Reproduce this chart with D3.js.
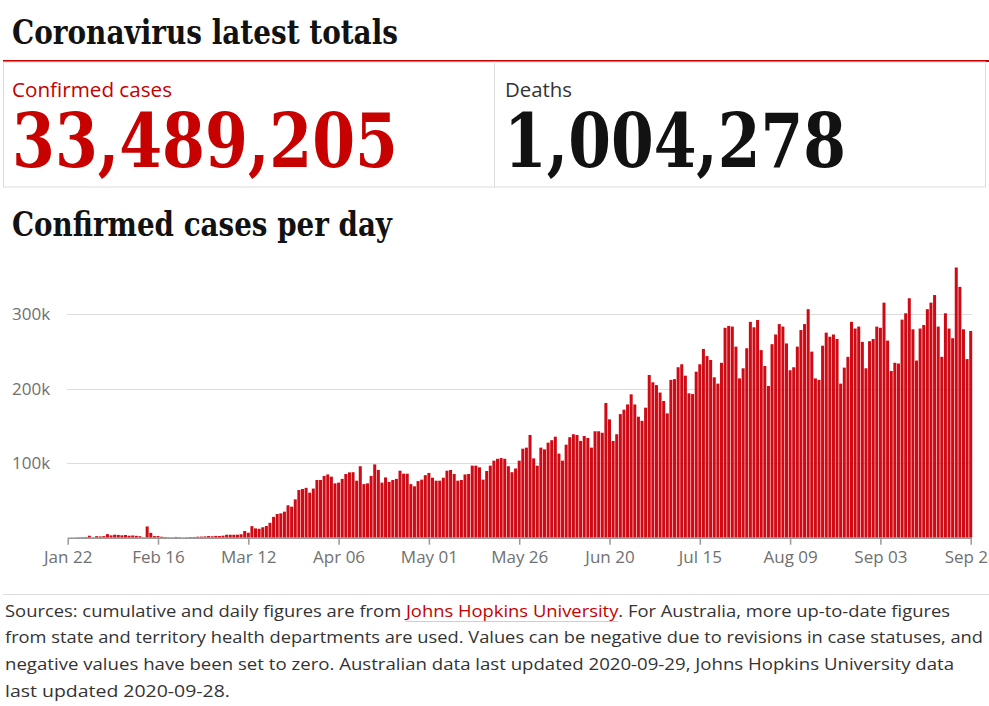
<!DOCTYPE html>
<html>
<head>
<meta charset="utf-8">
<script src="https://cdn.jsdelivr.net/npm/d3@7"></script>
<style>
  html, body { margin: 0; padding: 0; background: #fff; overflow: hidden; }
  svg { display: block; }
</style>
</head>
<body>
<svg id="chart" width="989" height="706"></svg>
<script>
// totals
const totalCases = 33489205;
const totalDeaths = 1004278;

// daily confirmed cases, one value per day starting 2020-01-22
const startDay = "2020-01-22";
const dailyCases = [
  0, 99, 287, 493, 684, 809, 2651, 588, 2068, 1693,
  2111, 4749, 3094, 4011, 3743, 3159, 3595, 2676, 3001, 2545,
  2026, 436, 15141, 6517, 2145, 2207, 1300, 900, 500, 400,
  1013, 600, 300, 597, 868, 959, 1309, 1454, 1716, 2218,
  1903, 2416, 2263, 2731, 3979, 3946, 3968, 4019, 4600, 9000,
  6700, 15500, 12500, 12000, 14000, 15700, 20000, 28000, 31800, 32700,
  35000, 43500, 41700, 51500, 64000, 65400, 67000, 60500, 66000, 77500,
  77500, 83000, 85000, 82000, 73000, 74000, 79000, 85600, 87800, 88000,
  76600, 96000, 72000, 73000, 83000, 98500, 91000, 74000, 81000, 75000,
  77500, 79000, 90000, 86000, 86000, 72000, 69000, 76000, 78000, 84000,
  87000, 80600, 76600, 76600, 80600, 90000, 91000, 85600, 76600, 77500,
  85000, 85600, 96800, 96800, 94500, 78000, 89600, 96800, 103500, 106000,
  107000, 106000, 96000, 88000, 93000, 103500, 119600, 121000, 138000, 106600,
  96800, 121000, 118700, 127700, 131000, 135700, 113000, 103500, 125000, 135000,
  139000, 138000, 130000, 136600, 134000, 121000, 143000, 143000, 141000, 181000,
  159000, 130000, 139000, 166000, 172000, 179000, 192600, 179000, 162600, 157000,
  174700, 218600, 208800, 205000, 195000, 183700, 167000, 212000, 213000, 229000,
  233000, 217700, 194000, 193000, 223000, 233000, 253600, 244000, 238800, 215500,
  207000, 235000, 282000, 284500, 283600, 256700, 214000, 227600, 254500, 290000,
  282700, 292500, 252000, 230700, 203800, 260000, 273000, 287000, 283600, 261000,
  225000, 229000, 256700, 279000, 287000, 307000, 250000, 214000, 212000, 258000,
  275500, 270000, 273000, 267000, 207000, 228500, 243000, 290000, 281000, 283600,
  263000, 227600, 264000, 267000, 283600, 282000, 315800, 264800, 224000, 235000,
  234000, 293000, 301500, 321700, 280000, 238000, 281000, 285800, 307000, 315800,
  326000, 283600, 243000, 301500, 281000, 268000, 363000, 337000, 280000, 240000,
  277800
];

const xTickDays = ["2020-01-22", "2020-02-16", "2020-03-12", "2020-04-06", "2020-05-01",
  "2020-05-26", "2020-06-20", "2020-07-15", "2020-08-09", "2020-09-03", "2020-09-28"];
const yTickValues = [100000, 200000, 300000];

const footLines = [
  ["Sources: cumulative and daily figures are from ", "Johns Hopkins University", ". For Australia, more up-to-date figures"],
  ["from state and territory health departments are used. Values can be negative due to revisions in case statuses, and"],
  ["negative values have been set to zero. Australian data last updated 2020-09-29, Johns Hopkins University data"],
  ["last updated 2020-09-28."]
];

const red = "#c70000";
const serif = "'DejaVu Serif', 'Liberation Serif', serif";
const sans = "'Open Sans', 'Noto Sans', sans-serif";

const svg = d3.select("#chart");
const parseDay = d3.timeParse("%Y-%m-%d");
const start = parseDay(startDay);
const data = dailyCases.map((v, i) => ({ date: d3.timeDay.offset(start, i), value: v }));

// header
svg.append("text")
  .attr("x", 12).attr("y", 44)
  .attr("font-family", serif).attr("font-weight", "bold").attr("font-size", 34)
  .attr("fill", "#121212")
  .attr("textLength", 386).attr("lengthAdjust", "spacingAndGlyphs")
  .text("Coronavirus latest totals");

svg.append("line")
  .attr("x1", 3).attr("x2", 989).attr("y1", 61).attr("y2", 61)
  .attr("stroke", red).attr("stroke-width", 2.2);

svg.append("rect")
  .attr("x", 3.5).attr("y", 62).attr("width", 491).attr("height", 125)
  .attr("fill", "none").attr("stroke", "#dcdcdc");
svg.append("rect")
  .attr("x", 494.5).attr("y", 62).attr("width", 491).attr("height", 125)
  .attr("fill", "none").attr("stroke", "#dcdcdc");

svg.append("text")
  .attr("x", 12).attr("y", 97)
  .attr("font-family", sans).attr("font-size", 20).attr("fill", red)
  .attr("textLength", 160).attr("lengthAdjust", "spacingAndGlyphs")
  .text("Confirmed cases");
svg.append("text")
  .attr("x", 505).attr("y", 97)
  .attr("font-family", sans).attr("font-size", 20).attr("fill", "#333")
  .attr("textLength", 67).attr("lengthAdjust", "spacingAndGlyphs")
  .text("Deaths");

svg.append("text")
  .attr("x", 12).attr("y", 167)
  .attr("font-family", serif).attr("font-weight", "bold").attr("font-size", 74)
  .attr("fill", red)
  .attr("textLength", 386).attr("lengthAdjust", "spacingAndGlyphs")
  .text(d3.format(",")(totalCases));
svg.append("text")
  .attr("x", 504).attr("y", 167)
  .attr("font-family", serif).attr("font-weight", "bold").attr("font-size", 74)
  .attr("fill", "#121212")
  .attr("textLength", 342).attr("lengthAdjust", "spacingAndGlyphs")
  .text(d3.format(",")(totalDeaths));

svg.append("text")
  .attr("x", 12).attr("y", 236)
  .attr("font-family", serif).attr("font-weight", "bold").attr("font-size", 34)
  .attr("fill", "#121212")
  .attr("textLength", 380).attr("lengthAdjust", "spacingAndGlyphs")
  .text("Confirmed cases per day");

// chart
const x = d3.scaleTime()
  .domain([start, parseDay("2020-09-28")])
  .range([67.7, 970.7]);
const y = d3.scaleLinear()
  .domain([0, 300000])
  .range([537.7, 314.4]);

const dayW = x(d3.timeDay.offset(start, 1)) - x(start);
const barW = dayW - 0.6;

const grid = svg.append("g");
yTickValues.forEach(v => {
  grid.append("line")
    .attr("x1", 67).attr("x2", 972)
    .attr("y1", Math.round(y(v)) + 0.5).attr("y2", Math.round(y(v)) + 0.5)
    .attr("stroke", "#dcdcdc");
  grid.append("text")
    .attr("x", 12).attr("y", y(v)).attr("dy", "0.35em")
    .attr("font-family", sans).attr("font-size", 17).attr("fill", "#707070")
    .text(d3.format("~s")(v));
});

svg.append("g")
  .selectAll("rect")
  .data(data)
  .join("rect")
  .attr("x", d => x(d.date) - barW / 2)
  .attr("width", barW)
  .attr("y", d => y(d.value))
  .attr("height", d => y(0) - y(d.value))
  .attr("fill", "#cf0a14");

const xAxis = svg.append("g")
  .attr("transform", `translate(0,${y(0)})`)
  .call(d3.axisBottom(x)
    .tickValues(xTickDays.map(parseDay))
    .tickFormat(d3.timeFormat("%b %d"))
    .tickSize(7)
    .tickSizeOuter(0));
xAxis.select(".domain").attr("stroke", "#999").attr("stroke-width", 1.5);
xAxis.selectAll(".tick line").attr("stroke", "#999").attr("stroke-width", 1.5);
xAxis.selectAll(".tick text")
  .attr("font-family", sans).attr("font-size", 17).attr("fill", "#707070")
  .attr("y", 13);

// footer
svg.append("line")
  .attr("x1", 3).attr("x2", 989).attr("y1", 594.5).attr("y2", 594.5)
  .attr("stroke", "#dcdcdc");

const lineWidths = [945, 978, 949, 225];
const baselines = [617, 643, 670, 697];
footLines.forEach((parts, i) => {
  const t = svg.append("text")
    .attr("x", 5).attr("y", baselines[i])
    .attr("font-family", sans).attr("font-size", 16.5).attr("fill", "#333")
    .attr("textLength", lineWidths[i]).attr("lengthAdjust", "spacingAndGlyphs");
  parts.forEach((p, j) => {
    t.append("tspan").attr("fill", parts.length > 1 && j === 1 ? red : "#333").text(p);
  });
  if (parts.length > 1) {
    const node = t.node();
    const a = parts[0].length;
    const b = a + parts[1].length - 1;
    const x0 = node.getStartPositionOfChar(a).x;
    const x1 = node.getEndPositionOfChar(b).x;
    svg.append("line")
      .attr("x1", x0).attr("x2", x1)
      .attr("y1", baselines[i] + 4.5).attr("y2", baselines[i] + 4.5)
      .attr("stroke", "#cfcfcf").attr("stroke-width", 1.2);
  }
});
</script>
</body>
</html>
